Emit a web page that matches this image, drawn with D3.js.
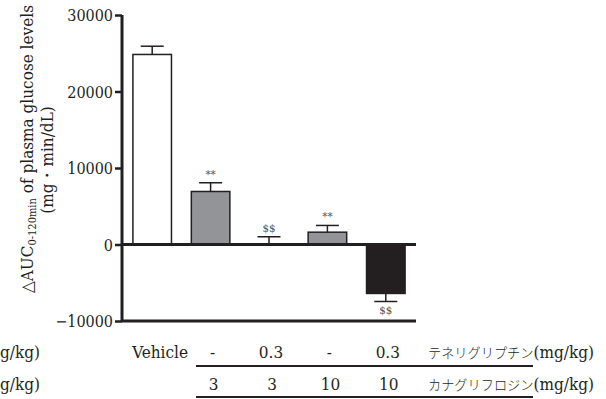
<!DOCTYPE html>
<html>
<head>
<meta charset="utf-8">
<script src="https://cdn.jsdelivr.net/npm/d3@7"></script>
<style>
  body { margin: 0; background: #fff; }
  text { font-family: "DejaVu Serif Condensed", "DejaVu Serif", serif !important; font-stretch: condensed; }
  text .jp { font-family: "Noto Sans CJK JP", sans-serif !important; font-stretch: normal; }
</style>
</head>
<body>
<div class="board"></div>
<script>
var width = 606, height = 399

// data
var groups = ["Vehicle", "T-/C3", "T0.3/C3", "T-/C10", "T0.3/C10"]
var means = [24840, 6930, 60, 1610, -6400]
var errors = [1080, 1140, 950, 880, 1050]
var marks = ["", "**", "$$", "**", "$$"]
var fills = ["#ffffff", "#929497", "#929497", "#929497", "#231f20"]
var teneligliptin = ["Vehicle", "-", "0.3", "-", "0.3"]
var canagliflozin = ["", "3", "3", "10", "10"]
var yTicks = [-10000, 0, 10000, 20000, 30000]

var X0 = 122, X1 = 416, Y_TOP = 15, Y_BOT = 321
var INK = "#231f20"

var svg = d3.select(".board")
    .append("svg")
    .attr("width", width)
    .attr("height", height)

let y = d3.scaleLinear()
    .domain([-10000, 30000])
    .range([Y_BOT, Y_TOP])

let x = d3.scaleBand()
    .domain(groups)
    .range([X0, X1])
    .paddingInner(0.34)
    .paddingOuter(0.187)

let cx = i => x(groups[i]) + x.bandwidth() / 2

// bars
svg.selectAll(".bar")
    .data(means)
    .enter()
    .append("rect")
    .classed("bar", true)
    .attr("x", (d, i) => x(groups[i]))
    .attr("y", d => y(Math.max(d, 0)))
    .attr("width", x.bandwidth())
    .attr("height", d => Math.abs(y(d) - y(0)))
    .attr("fill", (d, i) => fills[i])
    .attr("stroke", INK)
    .attr("stroke-width", 1.5)

let errEnd = (d, i) => d >= 0 ? y(d + errors[i]) : y(d - errors[i])
svg.selectAll(".errStem")
    .data(means)
    .enter()
    .append("line")
    .attr("x1", (d, i) => cx(i))
    .attr("x2", (d, i) => cx(i))
    .attr("y1", d => y(d))
    .attr("y2", errEnd)
    .attr("stroke", INK)
    .attr("stroke-width", 1.5)

svg.selectAll(".errCap")
    .data(means)
    .enter()
    .append("line")
    .attr("x1", (d, i) => cx(i) - 11.5)
    .attr("x2", (d, i) => cx(i) + 11.5)
    .attr("y1", errEnd)
    .attr("y2", errEnd)
    .attr("stroke", INK)
    .attr("stroke-width", 1.5)

svg.selectAll(".mark")
    .data(means)
    .enter()
    .append("text")
    .attr("x", (d, i) => cx(i))
    .attr("y", (d, i) => d >= 0 ? errEnd(d, i) - 5 : errEnd(d, i) + 13)
    .attr("text-anchor", "middle")
    .attr("font-size", 11.5)
    .attr("fill", "#555")
    .text((d, i) => marks[i])

// y axis
let yAxis = d3.axisLeft(y)
    .tickValues(yTicks)
    .tickSize(7)
    .tickPadding(2)
    .tickFormat(d3.format("d"))

let gy = svg.append("g")
    .attr("transform", `translate(${X0},0)`)
    .call(yAxis)
    .attr("font-size", 16)
gy.select(".domain").attr("stroke", INK).attr("stroke-width", 3)
    .attr("d", `M0,${Y_TOP}V${Y_BOT}`)
gy.selectAll(".tick line").attr("stroke", INK).attr("stroke-width", 2.5)
gy.selectAll(".tick text")
    .attr("fill", INK)
    .attr("dy", "0.35em")

svg.append("line")
    .attr("x1", X0).attr("x2", X1)
    .attr("y1", y(0)).attr("y2", y(0))
    .attr("stroke", INK).attr("stroke-width", 3)

svg.append("line")
    .attr("x1", X0).attr("x2", X1)
    .attr("y1", y(-10000)).attr("y2", y(-10000))
    .attr("stroke", INK).attr("stroke-width", 3)

// y label, two lines
let lab1 = svg.append("text")
    .attr("transform", "translate(33,149) rotate(-90)")
    .attr("text-anchor", "middle")
    .attr("font-size", 17)
    .attr("fill", INK)
lab1.append("tspan").text("\u25B3AUC")
lab1.append("tspan").attr("dy", "3").attr("font-size", 11).text("0-120min")
lab1.append("tspan").attr("dy", "-3").text(" of plasma glucose levels")

svg.append("text")
    .attr("transform", "translate(53,160) rotate(-90)")
    .attr("text-anchor", "middle")
    .attr("font-size", 17)
    .attr("fill", INK)
    .text("(mg\u30FBmin/dL)")

let ROW1 = 358, ROW2 = 390
svg.selectAll(".row1")
    .data(teneligliptin)
    .enter()
    .append("text")
    .attr("x", (d, i) => i == 0 ? 188 : cx(i) + 2)
    .attr("y", ROW1)
    .attr("text-anchor", (d, i) => i == 0 ? "end" : "middle")
    .attr("font-size", 17)
    .attr("fill", INK)
    .text(d => d)

svg.selectAll(".row2")
    .data(canagliflozin)
    .enter()
    .append("text")
    .attr("x", (d, i) => cx(i) + 3)
    .attr("y", ROW2)
    .attr("text-anchor", "middle")
    .attr("font-size", 17)
    .attr("fill", INK)
    .text(d => d)

svg.append("line")
    .attr("x1", 196).attr("x2", 533)
    .attr("y1", 366).attr("y2", 366)
    .attr("stroke", INK).attr("stroke-width", 2)
svg.append("line")
    .attr("x1", 196).attr("x2", 533)
    .attr("y1", 397).attr("y2", 397)
    .attr("stroke", INK).attr("stroke-width", 2)

function drugLabel(name, yy) {
    let t = svg.append("text").attr("x", 428).attr("y", yy)
        .attr("font-size", 17).attr("fill", INK)
    t.append("tspan").attr("class", "jp").attr("font-weight", 300)
        .attr("font-size", 13.2).text(name)
    t.append("tspan").text("(mg/kg)")
}
drugLabel("\u30C6\u30CD\u30EA\u30B0\u30EA\u30D7\u30C1\u30F3", ROW1)
drugLabel("\u30AB\u30CA\u30B0\u30EA\u30D5\u30ED\u30B8\u30F3", ROW2)

svg.append("text").attr("x", 0).attr("y", ROW1)
    .attr("font-size", 17).attr("fill", INK).text("g/kg)")
svg.append("text").attr("x", 0).attr("y", ROW2)
    .attr("font-size", 17).attr("fill", INK).text("g/kg)")
</script>
</body>
</html>
